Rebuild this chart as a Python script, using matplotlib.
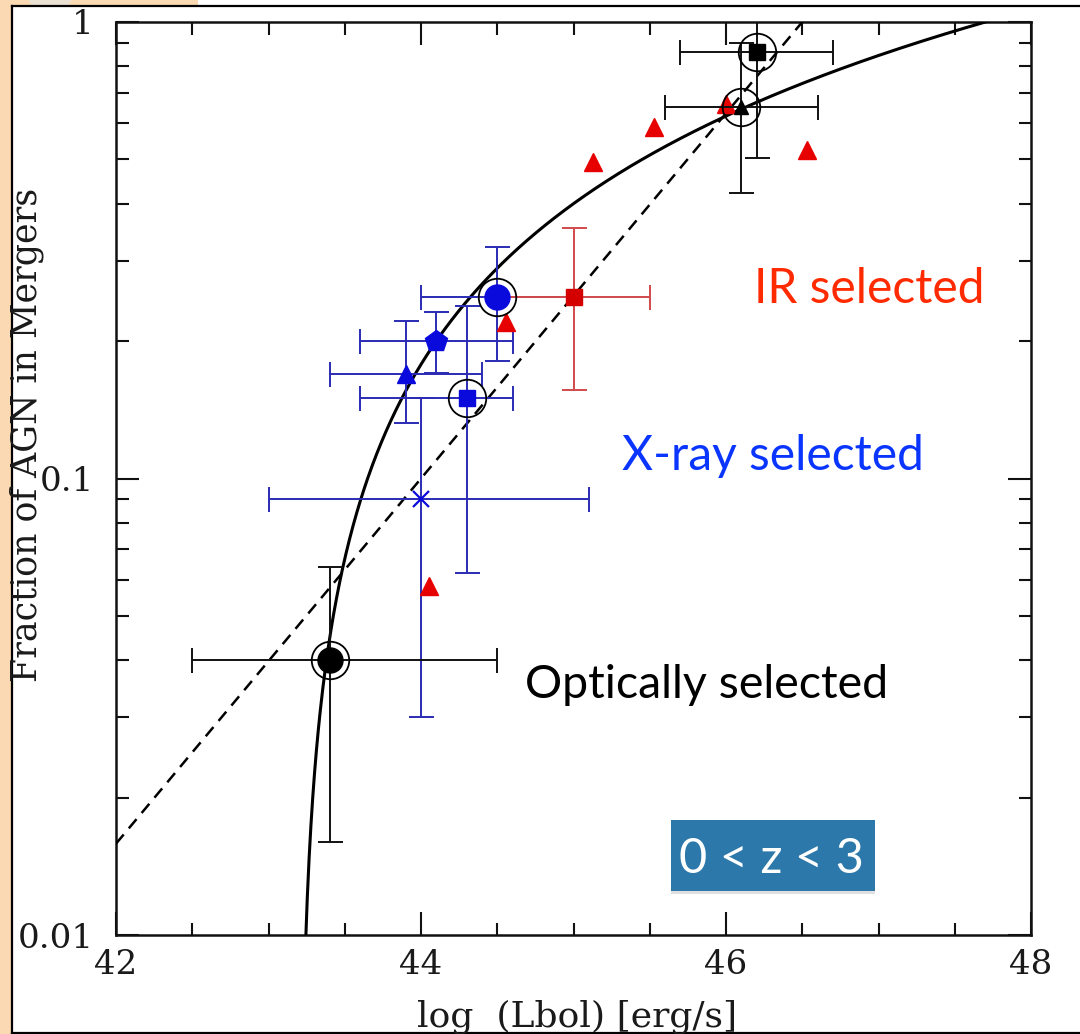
import numpy as np
import matplotlib
matplotlib.use("Agg")
import matplotlib.pyplot as plt
from matplotlib.patches import Rectangle, Polygon
import matplotlib.patheffects as pe
from matplotlib.ticker import FixedLocator, MultipleLocator, NullFormatter, FixedFormatter

# ---------------- data ----------------
# Optically selected samples (black)
opt_x = [43.4, 46.1, 46.2]
opt_y = [0.040, 0.65, 0.86]
opt_x_lo = [42.5, 45.6, 45.7]
opt_x_hi = [44.5, 46.6, 46.7]
opt_y_lo = [0.016, 0.422, 0.504]
opt_y_hi = [0.064, 0.90, 1.30]
opt_markers = ["o", "^", "s"]
opt_sizes = [18, 10, 11]

# X-ray selected samples (blue)
xray_x = [44.5, 44.1, 43.9, 44.3, 44.0]
xray_y = [0.25, 0.20, 0.169, 0.150, 0.090]
xray_x_lo = [44.0, 43.6, 43.4, 43.6, 43.0]
xray_x_hi = [45.0, 44.6, 44.4, 44.6, 45.1]
xray_y_lo = [0.181, 0.170, 0.132, 0.062, 0.030]
xray_y_hi = [0.321, 0.232, 0.221, 0.239, 0.150]
xray_markers = ["o", "p", "^", "s", "x"]
xray_sizes = [18, 16, 13, 12, 12]

# IR selected samples (red)
ir_sq_x = [45.0]
ir_sq_y = [0.25]
ir_sq_x_lo = [44.5]
ir_sq_x_hi = [45.5]
ir_sq_y_lo = [0.156]
ir_sq_y_hi = [0.354]
ir_tri_x = [44.56, 44.05, 45.13, 45.53, 46.0, 46.53]
ir_tri_y = [0.220, 0.058, 0.494, 0.589, 0.66, 0.524]

# Points highlighted with an open ring
ring_x = [43.4, 46.1, 46.2, 44.5, 44.3]
ring_y = [0.040, 0.65, 0.86, 0.25, 0.150]

# Fits: linear in log L (solid) and power law (dashed)
lin_zero, lin_scale = 43.2, 4.5
pow_index, pow_norm = 0.4, 46.5

x_ticks = [42, 44, 46, 48]
y_ticks = [0.01, 0.1, 1]
y_tick_labels = ["0.01", "0.1", "1"]

# ---------------- figure ----------------
W, H = 1080, 1034
fig = plt.figure(figsize=(W / 100, H / 100), dpi=100)
fig.patch.set_facecolor("white")

peach = "#fbd9b2"
# slide-style frame around the plot
fig.add_artist(Rectangle((0, 0), 10.5 / W, 1, transform=fig.transFigure,
                         facecolor=peach, edgecolor="none", zorder=0))
fig.add_artist(Rectangle((0, 1 - 5.5 / H), 198 / W, 5.5 / H, transform=fig.transFigure,
                         facecolor=peach, edgecolor="none", zorder=0))
fig.add_artist(Polygon([(28 / W, 1), (72 / W, 1), (68 / W, 1 - 5.5 / H), (32 / W, 1 - 5.5 / H)],
                       closed=True, transform=fig.transFigure,
                       facecolor="#ebe1d3", edgecolor="none", zorder=0))
frame_kw = dict(transform=fig.transFigure, color="black", lw=1.6, zorder=1)
fig.add_artist(plt.Line2D([11.5 / W, 11.5 / W], [1 - 6 / H, 1 - 1032.5 / H], **frame_kw))
fig.add_artist(plt.Line2D([11.5 / W, 1], [1 - 6 / H, 1 - 6 / H], **frame_kw))
fig.add_artist(plt.Line2D([11.5 / W, 1], [1 - 1032.5 / H, 1 - 1032.5 / H], **frame_kw))

ax = fig.add_axes([116 / W, 1 - 935 / H, (1031 - 116) / W, (935 - 22) / H])
ax.set_xlim(42, 48)
ax.set_yscale("log")
ax.set_ylim(0.01, 1)

# fit curves
xs = np.linspace(lin_zero + 1e-4, 48, 800)
ax.plot(xs, (xs - lin_zero) / lin_scale, color="black", lw=2.2, zorder=3)
xd = np.linspace(42, 48, 200)
ax.plot(xd, 10 ** (pow_index * (xd - pow_norm)), color="black", lw=1.8,
        dashes=(4.8, 3.2), zorder=3)


def draw_errors(x, y, xlo, xhi, ylo, yhi, color, z, lw=1.4):
    x = np.asarray(x)
    y = np.asarray(y)
    xerr = [x - np.asarray(xlo), np.asarray(xhi) - x]
    yerr = [y - np.asarray(ylo), np.asarray(yhi) - y]
    ax.errorbar(x, y, xerr=xerr, yerr=yerr, fmt="none", ecolor=color,
                elinewidth=lw, capsize=9, capthick=lw, zorder=z)


blue_err = "#2b2bb5"
blue_mk = "#0a0adc"
red_err = "#d24a4a"
red_mk = "#e60000"

draw_errors(xray_x, xray_y, xray_x_lo, xray_x_hi, xray_y_lo, xray_y_hi, blue_err, 4)
draw_errors(ir_sq_x, ir_sq_y, ir_sq_x_lo, ir_sq_x_hi, ir_sq_y_lo, ir_sq_y_hi, red_err, 5)
ax.plot(ir_tri_x, ir_tri_y, ls="none", marker="^", ms=13, color=red_mk,
        mec=red_mk, zorder=6)
draw_errors(opt_x, opt_y, opt_x_lo, opt_x_hi, opt_y_lo, opt_y_hi, "#111111", 7)

for x, y, m, s in zip(xray_x, xray_y, xray_markers, xray_sizes):
    if m == "x":
        ax.plot([x], [y], ls="none", marker=m, ms=s, mew=1.6, color=blue_mk, zorder=8)
    else:
        ax.plot([x], [y], ls="none", marker=m, ms=s, color=blue_mk, mec=blue_mk, zorder=8)
ax.plot(ir_sq_x, ir_sq_y, ls="none", marker="s", ms=12, color="#d40000",
        mec="#d40000", zorder=8)
for x, y, m, s in zip(opt_x, opt_y, opt_markers, opt_sizes):
    ax.plot([x], [y], ls="none", marker=m, ms=s, color="black", zorder=9)

ax.plot(ring_x, ring_y, ls="none", marker="o", ms=27, mfc="none", mec="black",
        mew=1.3, zorder=10)

# axes styling
for sp in ax.spines.values():
    sp.set_linewidth(1.8)
    sp.set_color("#111111")
ax.xaxis.set_major_locator(FixedLocator(x_ticks))
ax.xaxis.set_minor_locator(MultipleLocator(0.5))
ax.yaxis.set_major_locator(FixedLocator(y_ticks))
ax.yaxis.set_major_formatter(FixedFormatter(y_tick_labels))
ax.yaxis.set_minor_locator(FixedLocator(
    [m * d for d in (0.01, 0.1) for m in range(2, 10)]))
ax.yaxis.set_minor_formatter(NullFormatter())
ax.tick_params(which="both", direction="in", top=True, right=True,
               width=1.5, color="#111111")
ax.tick_params(which="major", length=16.5)
ax.tick_params(which="minor", length=9)
ax.tick_params(axis="x", which="major", pad=10)
ax.tick_params(axis="y", which="major", pad=16)
serif = ["DejaVu Serif"]
for lab in ax.get_xticklabels() + ax.get_yticklabels():
    lab.set_family(serif)
    lab.set_fontsize(24.5)
    lab.set_color("#1a1a1a")

fig.text(577 / W, 1 - 1027 / H, "log  (Lbol) [erg/s]", family=serif, fontsize=26,
         color="#1a1a1a", ha="center", va="baseline")
fig.text(27 / W, 1 - 435 / H, "Fraction of AGN in Mergers", family=serif,
         fontsize=25, color="#1a1a1a", rotation=90, ha="center", va="center")

# sample annotations
sans = ["Lato", "DejaVu Sans"]
fig.text(754 / W, 1 - 303 / H, "IR selected", family=sans, fontsize=34.5,
         color="#ff2a00", ha="left", va="baseline")
fig.text(622 / W, 1 - 470 / H, "X-ray selected", family=sans, fontsize=34.5,
         color="#0a35ff", ha="left", va="baseline")
fig.text(525 / W, 1 - 698 / H, "Optically selected", family=sans, fontsize=33.5,
         color="black", ha="left", va="baseline")

box = Rectangle((671 / W, 1 - 891 / H), (875 - 671) / W, (891 - 820) / H,
                transform=fig.transFigure, facecolor="#2c78aa", edgecolor="none",
                zorder=20,
                path_effects=[pe.SimplePatchShadow(offset=(0, -2), shadow_rgbFace="#999999",
                                                   alpha=0.3), pe.Normal()])
fig.add_artist(box)
fig.text(771 / W, 1 - 873 / H, "0 < z < 3", family=sans, fontsize=35,
         color="white", ha="center", va="baseline", zorder=21)

fig.savefig("out.png", dpi=100, facecolor=fig.get_facecolor())
